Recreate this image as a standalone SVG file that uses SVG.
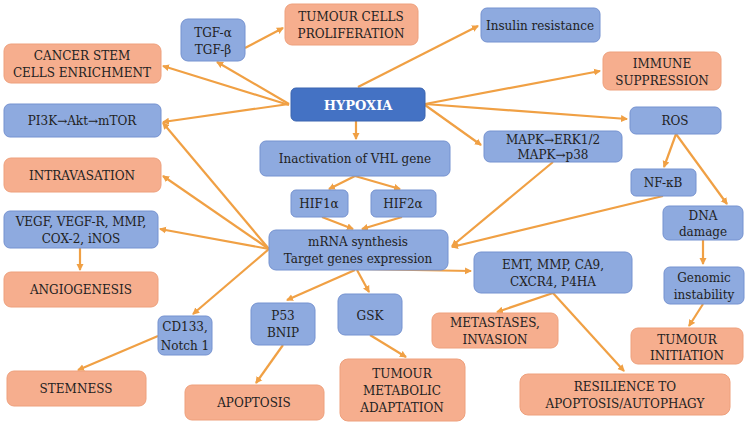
<svg xmlns="http://www.w3.org/2000/svg" width="749" height="427" viewBox="0 0 749 427">
<style>
.b{fill:#8eaadf;stroke:#7592d0;stroke-width:1}
.o{fill:#f6ae8e;stroke:#eea07c;stroke-width:1}
.h{fill:#4472c4;stroke:#3a64b0}
text{font-family:'DejaVu Serif',serif;font-size:12px;fill:#222;text-anchor:middle}
.ht{fill:#fff;font-weight:bold;font-size:13px}
#c line{stroke:#f0a044;stroke-width:2.2;marker-end:url(#a)}
</style>
<defs><marker id="a" markerWidth="8" markerHeight="8" refX="6" refY="4" orient="auto" markerUnits="userSpaceOnUse"><path d="M0,0.5L7,4L0,7.5z" fill="#f0a044"/></marker></defs>
<g id="c">
<line x1="289" y1="105" x2="163" y2="66"/>
<line x1="289" y1="104" x2="217" y2="62"/>
<line x1="245" y1="48" x2="283" y2="28"/>
<line x1="358" y1="87" x2="478" y2="26"/>
<line x1="425" y1="104" x2="600" y2="71"/>
<line x1="425" y1="104" x2="627" y2="119"/>
<line x1="425" y1="105" x2="481" y2="145"/>
<line x1="289" y1="104" x2="163" y2="122"/>
<line x1="356" y1="121" x2="356" y2="139"/>
<line x1="355" y1="176" x2="329" y2="189"/>
<line x1="355" y1="176" x2="400" y2="189"/>
<line x1="322" y1="217" x2="353" y2="229"/>
<line x1="402" y1="217" x2="362" y2="229"/>
<line x1="269" y1="249" x2="163" y2="123"/>
<line x1="269" y1="249" x2="163" y2="176"/>
<line x1="269" y1="249" x2="160" y2="229"/>
<line x1="80" y1="248" x2="80" y2="270"/>
<line x1="269" y1="249" x2="193" y2="314"/>
<line x1="158" y1="336" x2="78" y2="370"/>
<line x1="355" y1="270" x2="287" y2="300"/>
<line x1="357" y1="270" x2="369" y2="292"/>
<line x1="283" y1="345" x2="256" y2="383"/>
<line x1="370" y1="335" x2="406" y2="357"/>
<line x1="355" y1="269" x2="471" y2="271"/>
<line x1="553" y1="162" x2="452" y2="246"/>
<line x1="663" y1="196" x2="452" y2="247"/>
<line x1="676" y1="134" x2="664" y2="167"/>
<line x1="676" y1="134" x2="727" y2="204"/>
<line x1="703" y1="240" x2="703" y2="264"/>
<line x1="703" y1="304" x2="689" y2="326"/>
<line x1="553" y1="293" x2="497" y2="312"/>
<line x1="553" y1="293" x2="624" y2="371"/>
</g>
<g id="tgf"><rect class="b" x="181" y="19" width="64" height="42" rx="7"/><text x="213" y="37">TGF-α</text><text x="213" y="54">TGF-β</text></g>
<g id="tcp"><rect class="o" x="285" y="4" width="133" height="41" rx="7"/><text x="351" y="21">TUMOUR CELLS</text><text x="351" y="38">PROLIFERATION</text></g>
<g id="ins"><rect class="b" x="481" y="8" width="119" height="34" rx="6"/><text x="540" y="30">Insulin resistance</text></g>
<g id="csc"><rect class="o" x="4" y="44" width="157" height="39" rx="7"/><text x="82" y="60">CANCER STEM</text><text x="82" y="77">CELLS ENRICHMENT</text></g>
<g id="hyp"><rect class="h" x="291" y="88" width="134" height="33" rx="5"/><text class="ht" x="358" y="110">HYPOXIA</text></g>
<g id="imm"><rect class="o" x="603" y="52" width="118" height="38" rx="7"/><text x="662" y="68">IMMUNE</text><text x="662" y="85">SUPPRESSION</text></g>
<g id="pi3k"><rect class="b" x="4" y="104" width="157" height="33" rx="6"/><text x="82" y="125">PI3K→Akt→mTOR</text></g>
<g id="ros"><rect class="b" x="630" y="107" width="91" height="27" rx="6"/><text x="675" y="125">ROS</text></g>
<g id="mapk"><rect class="b" x="484" y="131" width="138" height="31" rx="6"/><text x="553" y="144">MAPK→ERK1/2</text><text x="553" y="159">MAPK→p38</text></g>
<g id="vhl"><rect class="b" x="260" y="141" width="190" height="35" rx="6"/><text x="355" y="163">Inactivation of VHL gene</text></g>
<g id="intr"><rect class="o" x="4" y="158" width="157" height="34" rx="7"/><text x="82" y="180">INTRAVASATION</text></g>
<g id="nfkb"><rect class="b" x="631" y="169" width="65" height="27" rx="5"/><text x="663" y="187">NF-κB</text></g>
<g id="hif1"><rect class="b" x="291" y="190" width="57" height="27" rx="5"/><text x="319" y="208">HIF1α</text></g>
<g id="hif2"><rect class="b" x="371" y="190" width="65" height="27" rx="5"/><text x="403" y="208">HIF2α</text></g>
<g id="dna"><rect class="b" x="663" y="206" width="80" height="34" rx="6"/><text x="703" y="220">DNA</text><text x="703" y="236">damage</text></g>
<g id="vegf"><rect class="b" x="4" y="211" width="154" height="37" rx="6"/><text x="81" y="226">VEGF, VEGF-R, MMP,</text><text x="81" y="243">COX-2, iNOS</text></g>
<g id="mrna"><rect class="b" x="269" y="230" width="179" height="40" rx="7"/><text x="358" y="246">mRNA synthesis</text><text x="358" y="263">Target genes expression</text></g>
<g id="emt"><rect class="b" x="474" y="252" width="158" height="41" rx="7"/><text x="553" y="269">EMT, MMP, CA9,</text><text x="553" y="286">CXCR4, P4HA</text></g>
<g id="ang"><rect class="o" x="4" y="272" width="154" height="35" rx="7"/><text x="81" y="294">ANGIOGENESIS</text></g>
<g id="gen"><rect class="b" x="664" y="267" width="80" height="37" rx="6"/><text x="704" y="282">Genomic</text><text x="704" y="299">instability</text></g>
<g id="cd133"><rect class="b" x="158" y="316" width="54" height="39" rx="6"/><text x="185" y="331">CD133,</text><text x="185" y="350">Notch 1</text></g>
<g id="p53"><rect class="b" x="251" y="303" width="64" height="42" rx="7"/><text x="283" y="320">P53</text><text x="283" y="337">BNIP</text></g>
<g id="gsk"><rect class="b" x="338" y="294" width="64" height="41" rx="7"/><text x="370" y="320">GSK</text></g>
<g id="met"><rect class="o" x="432" y="313" width="126" height="35" rx="7"/><text x="495" y="327">METASTASES,</text><text x="495" y="344">INVASION</text></g>
<g id="ti"><rect class="o" x="631" y="328" width="112" height="36" rx="7"/><text x="687" y="344">TUMOUR</text><text x="687" y="360">INITIATION</text></g>
<g id="stem"><rect class="o" x="7" y="371" width="139" height="35" rx="7"/><text x="76" y="393">STEMNESS</text></g>
<g id="apo"><rect class="o" x="185" y="385" width="139" height="35" rx="7"/><text x="254" y="407">APOPTOSIS</text></g>
<g id="tma"><rect class="o" x="340" y="359" width="125" height="62" rx="8"/><text x="402" y="378">TUMOUR</text><text x="402" y="395">METABOLIC</text><text x="402" y="412">ADAPTATION</text></g>
<g id="res"><rect class="o" x="520" y="374" width="210" height="41" rx="8"/><text x="625" y="391">RESILIENCE TO</text><text x="625" y="408">APOPTOSIS/AUTOPHAGY</text></g>
</svg>
